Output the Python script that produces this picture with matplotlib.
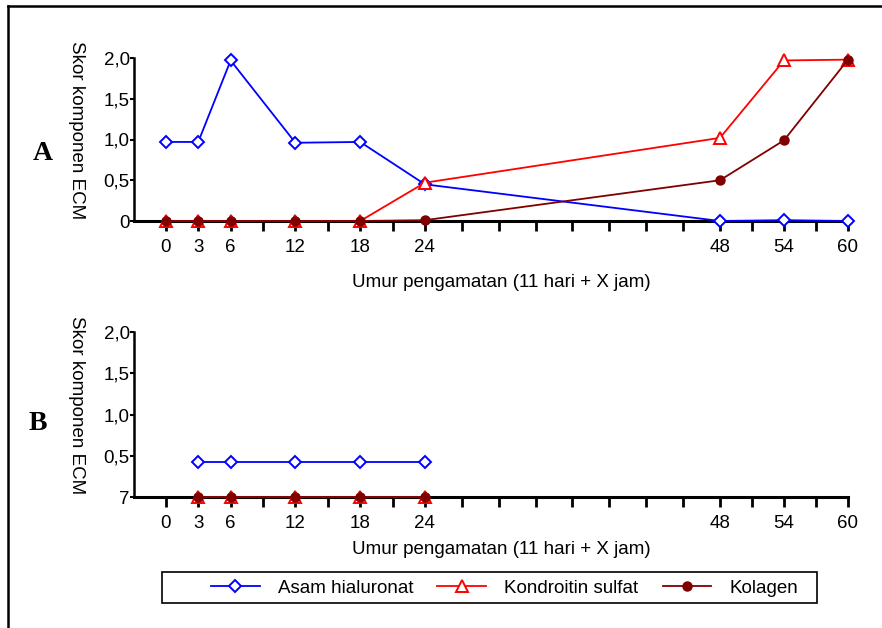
import numpy as np
import matplotlib
matplotlib.use('Agg')
import matplotlib.pyplot as plt
from matplotlib.lines import Line2D
from matplotlib.patches import Rectangle

plt.rcParams['font.family'] = ['Liberation Sans', 'DejaVu Sans']

# data panel A
jam_A = [0, 3, 6, 12, 18, 24, 48, 54, 60]
asam_A = [0.97, 0.97, 1.97, 0.96, 0.97, 0.45, 0.0, 0.01, 0.0]
kondro_A = [0, 0, 0, 0, 0, 0.47, 1.02, 1.97, 1.98]
kolagen_A = [0, 0, 0, 0, 0, 0.01, 0.50, 0.99, 1.98]
# data panel B
jam_B = [3, 6, 12, 18, 24]
asam_B = [0.43, 0.43, 0.43, 0.43, 0.43]
kondro_B = [0, 0, 0, 0, 0]
kolagen_B = [0, 0, 0, 0, 0]

xtick_lab = [0, 3, 6, 12, 18, 24, 48, 54, 60]
ytick_vals = [0, 0.5, 1.0, 1.5, 2.0]
ytick_A = ['0', '0,5', '1,0', '1,5', '2,0']
ytick_B = ['7', '0,5', '1,0', '1,5', '2,0']

# axis in the original is a bit stretched between 24 and 48
kn_h = [-6, 0, 24, 48, 60]
kn_p = [-64.8, 0, 259, 554, 682]
fwd = lambda x: np.interp(x, kn_h, kn_p)
inv = lambda p: np.interp(p, kn_p, kn_h)

W, H = 882, 628
fs = 13.5
fig = plt.figure(figsize=(W/100, H/100), dpi=100)

blue, red, dred = '#0000ff', '#ff0000', '#800000'

def panel(rect, jam, a, k, c, ylabs, letter, lpos, xl_y):
    ax = fig.add_axes(rect)
    ax.set_xscale('function', functions=(fwd, inv))
    ax.plot(jam, a, color=blue, lw=1.3, marker='D', ms=6.5, mfc='white', mec=blue, mew=1.4, clip_on=False, zorder=3)
    ax.plot(jam, k, color=red, lw=1.3, marker='^', ms=8, mfc='white', mec=red, mew=1.4, clip_on=False, zorder=4)
    ax.plot(jam, c, color=dred, lw=1.3, marker='o', ms=6.5, mfc=dred, mec=dred, clip_on=False, zorder=5)
    ax.set_xlim(-2.95, 60)
    ax.set_ylim(0, 2.0)
    ax.set_xticks(np.arange(0, 61, 3))
    ax.set_xticklabels([str(t) if t in xtick_lab else '' for t in range(0, 61, 3)], fontsize=fs)
    ax.set_yticks(ytick_vals)
    ax.set_yticklabels(ylabs, fontsize=fs)
    for s in ['top', 'right']:
        ax.spines[s].set_visible(False)
    ax.spines['bottom'].set_linewidth(2.2)
    ax.spines['left'].set_linewidth(1.8)
    ax.tick_params(axis='x', direction='out', length=7.5, width=2, pad=5.5)
    ax.tick_params(axis='y', direction='out', length=3, width=1.5, pad=0)
    ax.set_xlabel('Umur pengamatan (11 hari + X jam)', fontsize=fs)
    ax.xaxis.set_label_coords(0.515, xl_y)
    ax.set_ylabel('Skor komponen ECM', fontsize=fs, rotation=-90, va='bottom')
    ax.yaxis.set_label_coords(-0.092, 0.56)
    fig.text(lpos[0]/W, 1-lpos[1]/H, letter, fontsize=20, fontweight='bold',
             family='Liberation Serif', ha='center', va='center')
    return ax

axA = panel([134/W, 1-221/H, 714/W, 163/H], jam_A, asam_A, kondro_A, kolagen_A, ytick_A, 'A', (43, 153), -0.325)
axB = panel([134/W, 1-497/H, 714/W, 165/H], jam_B, asam_B, kondro_B, kolagen_B, ytick_B, 'B', (38, 424), -0.265)

# frame on left and top
fig.add_artist(Line2D([8/W, 8/W], [0, 1-6/H], color='black', lw=1.8))
fig.add_artist(Line2D([8/W, 1], [1-6/H, 1-6/H], color='black', lw=1.8))

# legend box
fig.add_artist(Rectangle((162/W, 1-603/H), 655/W, 31/H, fill=False, ec='black', lw=1.2))
hands = [Line2D([], [], color=blue, lw=1.3, marker='D', ms=6.5, mfc='white', mec=blue, mew=1.4),
         Line2D([], [], color=red, lw=1.3, marker='^', ms=8, mfc='white', mec=red, mew=1.4),
         Line2D([], [], color=dred, lw=1.3, marker='o', ms=6.5, mfc=dred, mec=dred)]
leg = fig.legend(hands, ['Asam hialuronat', 'Kondroitin sulfat', 'Kolagen'], ncol=3,
                 loc='center left', bbox_to_anchor=(211/W, 1-588/H),
                 fontsize=fs, frameon=False, handlelength=2.6, handletextpad=0.95,
                 columnspacing=1.3, borderaxespad=0, borderpad=0)

fig.savefig('out.png', dpi=100)
